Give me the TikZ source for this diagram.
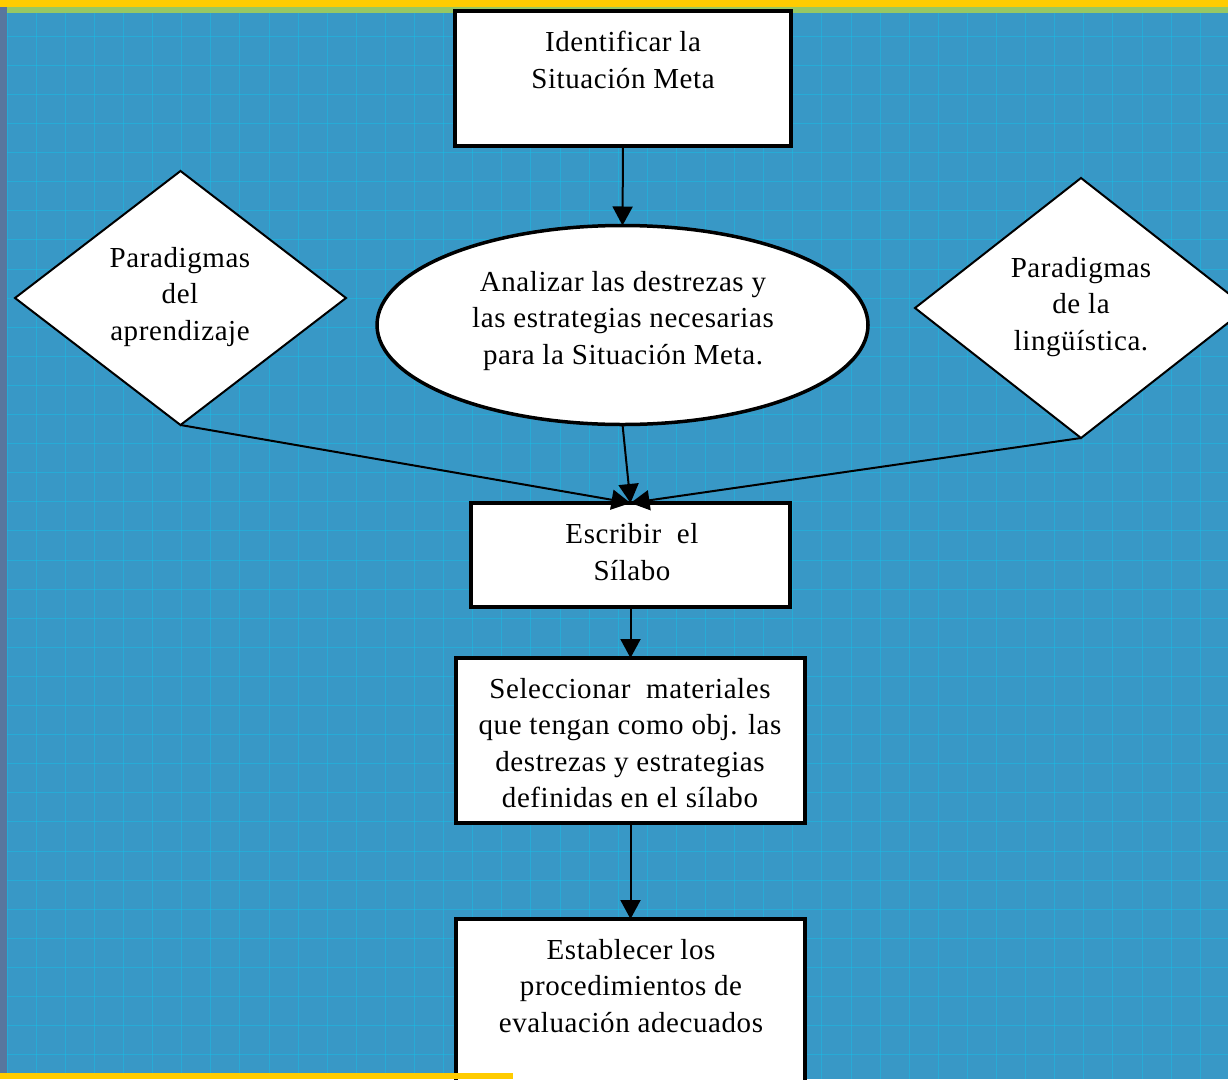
\documentclass[tikz,border=0pt]{standalone}
\usepackage{fontspec}
\setmainfont{Liberation Serif}[LetterSpace=2]
\usetikzlibrary{arrows.meta,shapes.geometric}
\definecolor{bgblue}{RGB}{56,152,198}
\definecolor{gridcyan}{RGB}{20,195,235}
\definecolor{leftstrip}{RGB}{88,118,158}
\definecolor{greenstrip}{RGB}{150,200,100}
\definecolor{bandyellow}{RGB}{255,204,0}
\tikzset{
  boxst/.style={draw=black, fill=white, line width=3.5pt, inner sep=0pt, outer sep=0pt},
  ellst/.style={ellipse, draw=black, fill=white, line width=3.5pt, inner sep=0pt, outer sep=0pt},
  diast/.style={diamond, draw=black, fill=white, line width=2pt, inner sep=0pt, outer sep=0pt},
  txt/.style={align=center, font=\fontsize{29pt}{36.5pt}\selectfont, inner sep=0pt},
  arr/.style={draw=black, line width=2pt, -{Triangle[length=19pt,width=20pt]}},
  gridln/.style={draw=gridcyan, line width=0.7pt, opacity=0.45}
}
\begin{document}
\begin{tikzpicture}[x=1pt,y=-1pt]
\useasboundingbox (0,0) rectangle (1228,1079);
\fill[bgblue] (0,0) rectangle (1228,1079);
\foreach \i in {0,...,42} { \draw[gridln] ({7+29.1*\i},7) -- ({7+29.1*\i},1079); }
\foreach \j in {0,...,37} { \draw[gridln] (7,{7+29.1*\j}) -- (1228,{7+29.1*\j}); }
\fill[leftstrip] (0,0) rectangle (7,1079);
\fill[greenstrip] (7,7) rectangle (1228,13);
\fill[bandyellow] (0,0) rectangle (1228,7);

% shapes
\node[boxst, minimum width=336pt, minimum height=135pt] (b1) at (623,78.5) {};
\node[ellst, minimum width=491pt, minimum height=199pt] (ell) at (622.5,325) {};
\node[diast, minimum width=331pt, minimum height=254pt] (ldia) at (180.5,298) {};
\node[diast, minimum width=332pt, minimum height=260pt] (rdia) at (1081,308) {};
\node[boxst, minimum width=319pt, minimum height=104pt] (escr) at (630.5,555) {};
\node[boxst, minimum width=349pt, minimum height=165pt] (sel) at (630.5,740.5) {};
\node[boxst, minimum width=349pt, minimum height=200pt] (est) at (630.5,1019) {};

% connectors
\draw[arr] (b1.south) -- (ell.north);
\draw[arr] (ldia.south) -- (escr.north);
\draw[arr] (ell.south) -- (escr.north);
\draw[arr] (rdia.south) -- (escr.north);
\draw[arr] (escr.south) -- (sel.north);
\draw[arr] (sel.south) -- (est.north);

% texts
\node[txt] (t1) at (623,60) {Identificar la\\Situación Meta};
\node[txt] (tl) at (180,297) {Paradigmas\\del\\aprendizaje};
\node[txt] (tr) at (1081,307) {Paradigmas\\de la\\lingüística.};
\node[txt] (te) at (623,321) {Analizar las destrezas y\\las estrategias necesarias\\para la Situación Meta.};
\node[txt] (ts) at (632,552) {Escribir\ \ el\\Sílabo};
\node[txt] (tsel) at (630,743) {Seleccionar\ \ materiales\\que tengan como obj. las\\destrezas y estrategias\\definidas en el sílabo};
\node[txt] (test) at (631,986) {Establecer los\\procedimientos de\\evaluación adecuados};

\fill[bandyellow] (0,1073) rectangle (513,1079);
\end{tikzpicture}
\end{document}
